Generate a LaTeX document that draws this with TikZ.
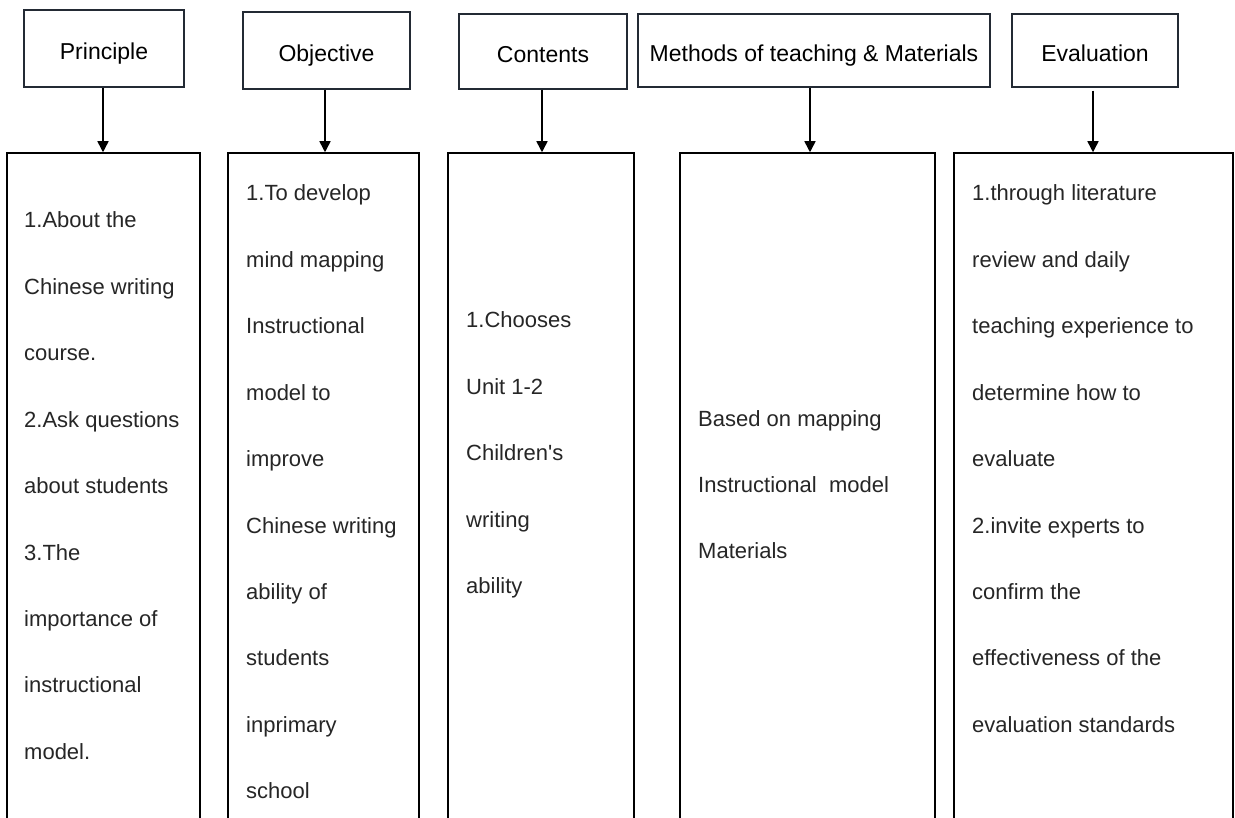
\documentclass[tikz,border=0pt]{standalone}
\usepackage{fontspec}
\setmainfont{Liberation Sans}
\usetikzlibrary{arrows.meta}
\definecolor{headc}{RGB}{35,42,52}
\begin{document}
\begin{tikzpicture}[x=1pt,y=-1pt,
  head/.style={draw=headc, line width=1.5pt, inner sep=0pt, font=\fontsize{23}{27}\selectfont, text height=22pt, text depth=0pt, align=center},
  col/.style={draw=black, line width=1.5pt, inner sep=0pt, minimum height=677pt},
  body/.style={anchor=base west, inner sep=0pt, font=\fontsize{22}{26}\selectfont, text=black!85},
  arr/.style={-{Triangle[width=11pt,length=11pt]}, line width=1.5pt}]
\fill[white] (0,0) rectangle (1235,818);
\useasboundingbox (0,0) rectangle (1235,818);
% header boxes
\node[head, minimum width=160pt, minimum height=77pt] (P) at (104,48.5) {Principle};
\node[head, minimum width=167pt, minimum height=77pt] (O) at (326.5,50.5) {Objective};
\node[head, minimum width=168pt, minimum height=75pt] (C) at (543,51.5) {Contents};
\node[head, minimum width=352pt, minimum height=73pt] (M) at (814,50.5) {Methods of teaching \& Materials};
\node[head, minimum width=166pt, minimum height=73pt] (E) at (1095,50.5) {Evaluation};
% column boxes (run off the bottom edge)
\node[col, minimum width=193pt] (PB) at (103.5,491.5) {};
\node[col, minimum width=191pt] (OB) at (323.5,491.5) {};
\node[col, minimum width=186pt] (CB) at (541,491.5) {};
\node[col, minimum width=255pt] (MB) at (807.5,491.5) {};
\node[col, minimum width=279pt] (EB) at (1093.5,491.5) {};
% arrows
\draw[arr] ([xshift=-1pt]P.south) -- ([xshift=-1pt]P.south |- PB.north);
\draw[arr] ([xshift=-1.5pt]O.south) -- ([xshift=-1.5pt]O.south |- OB.north);
\draw[arr] ([xshift=-1pt]C.south) -- ([xshift=-1pt]C.south |- CB.north);
\draw[arr] ([xshift=-4pt]M.south) -- ([xshift=-4pt]M.south |- MB.north);
\draw[arr] ([xshift=-2pt,yshift=-3pt]E.south) -- ([xshift=-2pt]E.south |- EB.north);
% texts
\foreach \t [count=\i] in {1.About the, Chinese writing, course., 2.Ask questions, about students, 3.The, importance of, instructional, model.}
  \node[body] (pt\i) at (24,228+66.4*\i-66.4) {\t};
\foreach \t [count=\i] in {1.To develop, mind mapping, Instructional, model to, improve, Chinese writing, ability of, students, inprimary, school}
  \node[body] (ot\i) at (246,201+66.4*\i-66.4) {\t};
\foreach \t [count=\i] in {1.Chooses, Unit 1-2, Children\textquotesingle{}s, writing, ability}
  \node[body] (ct\i) at (466,328+66.4*\i-66.4) {\t};
\foreach \t [count=\i] in {Based on mapping, Instructional\ \ model, Materials}
  \node[body] (mt\i) at (698,426+66.4*\i-66.4) {\t};
\foreach \t [count=\i] in {1.through literature, review and daily, teaching experience to, determine how to, evaluate, 2.invite experts to, confirm the, effectiveness of the, evaluation standards}
  \node[body] (et\i) at (972,201+66.4*\i-66.4) {\t};
\end{tikzpicture}
\end{document}
